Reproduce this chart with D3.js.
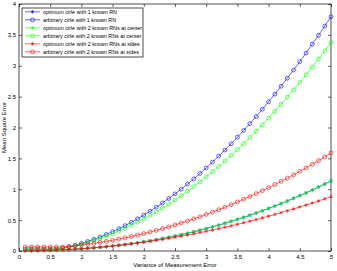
<!DOCTYPE html>
<html>
<head>
<meta charset="utf-8">
<script src="https://cdn.jsdelivr.net/npm/d3@7"></script>
<style>
  body { margin: 0; background: #fff; }
  svg { display: block; font-family: "Liberation Sans", Arial, sans-serif; }
</style>
</head>
<body>
<svg id="chart" width="337" height="271"></svg>
<script>
// variance of measurement error (x)
const variance = [0.1,0.2,0.3,0.4,0.5,0.6,0.7,0.8,0.9,1.0,1.1,1.2,1.3,1.4,1.5,1.6,1.7,1.8,1.9,2.0,
  2.1,2.2,2.3,2.4,2.5,2.6,2.7,2.8,2.9,3.0,3.1,3.2,3.3,3.4,3.5,3.6,3.7,3.8,3.9,4.0,
  4.1,4.2,4.3,4.4,4.5,4.6,4.7,4.8,4.9,5.0];

// the optimum 1-RN curve sits under the green stars in the picture
const optOneRN = [0.005,0.006,0.007,0.009,0.011,0.015,0.019,0.023,0.029,0.035,
  0.042,0.051,0.060,0.069,0.080,0.092,0.105,0.118,0.133,0.149,
  0.165,0.183,0.202,0.222,0.243,0.264,0.287,0.312,0.337,0.363,
  0.390,0.419,0.449,0.480,0.512,0.545,0.579,0.615,0.651,0.689,
  0.728,0.768,0.810,0.853,0.897,0.941,0.988,1.036,1.085,1.135];
const arbOneRN = [0.030,0.030,0.030,0.030,0.030,0.030,0.044,0.067,0.093,0.122,
  0.154,0.189,0.227,0.269,0.313,0.360,0.411,0.465,0.521,0.581,
  0.644,0.709,0.778,0.850,0.925,1.003,1.084,1.168,1.256,1.346,
  1.439,1.536,1.635,1.737,1.843,1.952,2.063,2.178,2.296,2.417,
  2.541,2.668,2.798,2.931,3.067,3.206,3.349,3.494,3.642,3.794];
const optTwoCenter = [0.005,0.006,0.007,0.009,0.011,0.015,0.019,0.023,0.029,0.035,
  0.042,0.051,0.060,0.069,0.080,0.092,0.105,0.118,0.133,0.149,
  0.165,0.183,0.202,0.222,0.243,0.264,0.287,0.312,0.337,0.363,
  0.390,0.419,0.449,0.480,0.512,0.545,0.579,0.615,0.651,0.689,
  0.728,0.768,0.810,0.853,0.897,0.941,0.988,1.036,1.085,1.135];
const arbTwoCenter = [0.030,0.030,0.030,0.030,0.030,0.030,0.042,0.063,0.086,0.112,
  0.140,0.171,0.205,0.242,0.282,0.324,0.369,0.416,0.467,0.520,
  0.575,0.634,0.695,0.759,0.826,0.895,0.967,1.042,1.119,1.200,
  1.283,1.368,1.457,1.548,1.642,1.738,1.837,1.939,2.044,2.152,
  2.262,2.375,2.490,2.609,2.730,2.853,2.980,3.109,3.241,3.376];
const optTwoSides = [0.003,0.004,0.006,0.009,0.012,0.016,0.020,0.025,0.031,0.038,
  0.045,0.053,0.062,0.072,0.082,0.093,0.104,0.117,0.129,0.143,
  0.158,0.173,0.188,0.205,0.222,0.240,0.258,0.278,0.298,0.318,
  0.340,0.362,0.385,0.408,0.432,0.457,0.483,0.509,0.536,0.564,
  0.592,0.621,0.651,0.681,0.713,0.744,0.777,0.810,0.844,0.879];
const arbTwoSides = [0.065,0.065,0.065,0.065,0.065,0.065,0.065,0.074,0.084,0.096,
  0.109,0.123,0.139,0.156,0.174,0.193,0.213,0.235,0.258,0.282,
  0.307,0.334,0.362,0.391,0.422,0.453,0.486,0.520,0.555,0.592,
  0.630,0.669,0.709,0.751,0.794,0.838,0.883,0.929,0.977,1.026,
  1.076,1.128,1.180,1.234,1.290,1.346,1.404,1.463,1.523,1.590];

const seriesNames = [
  "optimum cirle with 1 known RN",
  "arbitrary cirle with 1 known RN",
  "optimum cirle with 2 known RNs at center",
  "arbitrary cirle with 2 known RNs at center",
  "optimum cirle with 2 known RNs at sides",
  "arbitrary cirle with 2 known RNs at sides"
];
const seriesColors = ["#0000ff", "#0000ff", "#00ff00", "#00ff00", "#ff0000", "#ff0000"];
const seriesMarkers = ["star", "circle", "star", "circle", "star", "circle"];
const seriesValues = [optOneRN, arbOneRN, optTwoCenter, arbTwoCenter, optTwoSides, arbTwoSides];

const xTicks = [0, 0.5, 1, 1.5, 2, 2.5, 3, 3.5, 4, 4.5, 5];
const yTicks = [0, 0.5, 1, 1.5, 2, 2.5, 3, 3.5, 4];

let svg = d3.select("#chart"),
    margin = {left: 19, right: 6, top: 4, bottom: 20},
    width = +svg.attr("width") - margin.left - margin.right,
    height = +svg.attr("height") - margin.top - margin.bottom;

let x = d3.scaleLinear().domain([0, 5]).range([0, width]);
let y = d3.scaleLinear().domain([0, 4]).range([height, 0]);

let g = svg.append("g").attr("transform", "translate(" + margin.left + "," + margin.top + ")");

// axes, matlab style ticks pointing inwards
function styleAxis(sel) {
    sel.select(".domain").remove();
    sel.selectAll("line").attr("stroke", "#000").attr("stroke-width", 0.6);
    sel.selectAll("text").attr("font-size", "6px").attr("fill", "#000");
}
g.append("g").attr("transform", "translate(0," + height + ")")
    .call(d3.axisBottom(x).tickValues(xTicks).tickFormat(d3.format("")).tickSizeInner(-3).tickPadding(4))
    .call(styleAxis);
g.append("g")
    .call(d3.axisTop(x).tickValues(xTicks).tickFormat("").tickSizeInner(-3))
    .call(styleAxis);
g.append("g")
    .call(d3.axisLeft(y).tickValues(yTicks).tickFormat(d3.format("")).tickSizeInner(-3).tickPadding(3))
    .call(styleAxis);
g.append("g").attr("transform", "translate(" + width + ",0)")
    .call(d3.axisRight(y).tickValues(yTicks).tickFormat("").tickSizeInner(-3))
    .call(styleAxis);

g.append("rect")
    .attr("width", width).attr("height", height)
    .attr("fill", "none").attr("stroke", "#000").attr("stroke-width", 0.7);

let line = d3.line()
    .x(function(d, i) { return x(variance[i]); })
    .y(function(d) { return y(d); });

let star = d3.symbol().type(d3.symbolAsterisk).size(9);
let ring = d3.symbol().type(d3.symbolCircle).size(12);

function drawMarker(sel, kind, color) {
    sel.append("path")
        .attr("d", kind === "star" ? star() : ring())
        .attr("fill", "none")
        .attr("stroke", color)
        .attr("stroke-width", 0.6);
}

// plotted in legend order, like matlab would
seriesValues.forEach(function(vals, s) {
    g.append("path")
        .datum(vals)
        .attr("d", line)
        .attr("fill", "none")
        .attr("stroke", seriesColors[s])
        .attr("stroke-width", 0.6);

    let pts = g.append("g").selectAll("g")
        .data(vals)
        .enter().append("g")
        .attr("transform", function(d, i) { return "translate(" + x(variance[i]) + "," + y(d) + ")"; });
    drawMarker(pts, seriesMarkers[s], seriesColors[s]);
});

// axis titles
svg.append("text")
    .attr("x", margin.left + width / 2).attr("y", 267)
    .attr("text-anchor", "middle").attr("font-size", "6px")
    .text("Variance of Measurement Error");
svg.append("text")
    .attr("transform", "translate(6," + (margin.top + height / 2) + ") rotate(-90)")
    .attr("text-anchor", "middle").attr("font-size", "6px")
    .text("Mean Square Error");

// legend
let legend = g.append("g").attr("transform", "translate(3,4)");
legend.append("rect")
    .attr("width", 121).attr("height", 49)
    .attr("fill", "#fff").attr("stroke", "#000").attr("stroke-width", 0.7);

let items = legend.selectAll(".item")
    .data(seriesNames)
    .enter().append("g")
    .attr("class", "item")
    .attr("transform", function(d, i) { return "translate(0," + (3.8 + i * 8) + ")"; });

items.append("line")
    .attr("x1", 3).attr("x2", 18)
    .attr("stroke", function(d, i) { return seriesColors[i]; })
    .attr("stroke-width", 0.6);
items.each(function(d, i) {
    let m = d3.select(this).append("g").attr("transform", "translate(10.5,0)");
    drawMarker(m, seriesMarkers[i], seriesColors[i]);
});
items.append("text")
    .attr("x", 21).attr("y", 2)
    .attr("font-size", "5.4px")
    .text(function(d) { return d; });
</script>
</body>
</html>
